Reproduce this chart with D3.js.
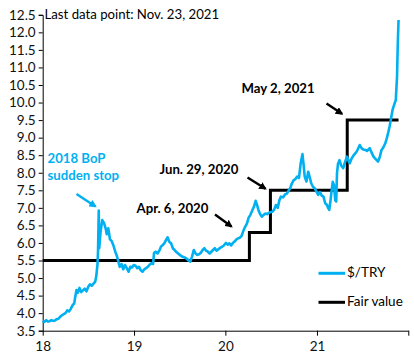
<!DOCTYPE html>
<html>
<head>
<meta charset="utf-8">
<script src="https://cdn.jsdelivr.net/npm/d3@7"></script>
<style>
  html, body { margin: 0; padding: 0; background: #fff; }
  svg { display: block; }
  text { font-family: Lato, "Open Sans", sans-serif; }
</style>
</head>
<body>
<svg id="chart" width="414" height="360"></svg>
<script>
// ---------- DATA ----------
const tryDates = [
  "2018-01-01","2018-01-08","2018-01-15","2018-01-22","2018-01-29","2018-02-05","2018-02-12","2018-02-19","2018-02-26",
  "2018-03-05","2018-03-12","2018-03-19","2018-03-26","2018-04-02","2018-04-09","2018-04-16","2018-04-23","2018-04-30",
  "2018-05-07","2018-05-10","2018-05-16","2018-05-21","2018-05-28","2018-06-04","2018-06-11","2018-06-18","2018-06-25",
  "2018-07-02","2018-07-09","2018-07-16","2018-07-23","2018-07-30","2018-08-03","2018-08-08","2018-08-10","2018-08-13",
  "2018-08-15","2018-08-20","2018-08-27","2018-09-03","2018-09-10","2018-09-14","2018-09-20","2018-09-27","2018-10-04",
  "2018-10-11","2018-10-18","2018-10-25","2018-11-01","2018-11-05","2018-11-12","2018-11-19","2018-11-26","2018-12-03",
  "2018-12-10","2018-12-17","2018-12-24","2018-12-31",
  "2019-01-07","2019-01-14","2019-01-21","2019-01-28","2019-02-04","2019-02-11","2019-02-18","2019-02-25","2019-03-04",
  "2019-03-11","2019-03-18","2019-03-22","2019-03-29","2019-04-05","2019-04-12","2019-04-19","2019-04-26","2019-05-03",
  "2019-05-10","2019-05-15","2019-05-22","2019-05-29","2019-06-05","2019-06-12","2019-06-19","2019-06-26","2019-07-03",
  "2019-07-10","2019-07-17","2019-07-24","2019-07-31","2019-08-07","2019-08-14","2019-08-21","2019-08-28","2019-09-04",
  "2019-09-11","2019-09-18","2019-09-25","2019-10-02","2019-10-09","2019-10-16","2019-10-23","2019-10-30","2019-11-06",
  "2019-11-13","2019-11-20","2019-11-27","2019-12-04","2019-12-11","2019-12-18","2019-12-25",
  "2020-01-03","2020-01-10","2020-01-17","2020-01-24","2020-01-31","2020-02-07","2020-02-14","2020-02-21","2020-02-28",
  "2020-03-06","2020-03-13","2020-03-20","2020-03-27","2020-04-03","2020-04-10","2020-04-17","2020-04-24","2020-05-01",
  "2020-05-06","2020-05-12","2020-05-19","2020-05-26","2020-06-02","2020-06-09","2020-06-16","2020-06-23","2020-06-30",
  "2020-07-07","2020-07-14","2020-07-21","2020-07-28","2020-08-04","2020-08-10","2020-08-19","2020-08-26","2020-09-02",
  "2020-09-09","2020-09-16","2020-09-23","2020-09-30","2020-10-07","2020-10-14","2020-10-21","2020-10-28","2020-11-04",
  "2020-11-09","2020-11-13","2020-11-20","2020-11-27","2020-12-04","2020-12-09","2020-12-16","2020-12-23","2020-12-30",
  "2021-01-06","2021-01-13","2021-01-20","2021-01-27","2021-02-03","2021-02-10","2021-02-15","2021-02-19","2021-02-24",
  "2021-03-01","2021-03-05","2021-03-10","2021-03-15","2021-03-19","2021-03-22","2021-03-26","2021-04-01","2021-04-08",
  "2021-04-16","2021-04-23","2021-05-01","2021-05-07","2021-05-12","2021-05-19","2021-05-26","2021-06-03","2021-06-10",
  "2021-06-21","2021-06-28","2021-07-05","2021-07-13","2021-07-20","2021-07-31","2021-08-07","2021-08-15","2021-08-22",
  "2021-09-02","2021-09-09","2021-09-16","2021-09-23","2021-10-01","2021-10-07","2021-10-12","2021-10-18","2021-10-23",
  "2021-10-30","2021-11-06","2021-11-12","2021-11-17","2021-11-20","2021-11-23"
];
const tryValues = [
  3.78,3.75,3.80,3.76,3.77,3.80,3.78,3.79,3.83,
  3.84,3.90,3.94,3.97,4.00,4.08,4.05,4.12,4.22,
  4.28,4.42,4.66,4.58,4.72,4.60,4.65,4.70,4.62,
  4.75,4.82,4.78,4.84,4.90,5.05,5.40,5.75,6.92,
  5.85,6.30,6.65,6.57,6.40,6.25,6.42,6.10,6.05,
  5.92,5.75,5.62,5.42,5.32,5.40,5.25,5.37,5.28,
  5.18,5.32,5.30,5.37,
  5.35,5.28,5.32,5.22,5.18,5.25,5.28,5.32,5.38,
  5.42,5.40,5.72,5.75,5.70,5.78,5.90,5.94,6.00,
  6.10,6.16,6.03,5.99,5.85,5.80,5.74,5.70,5.66,
  5.62,5.60,5.58,5.55,5.50,5.47,5.62,5.80,5.70,
  5.66,5.68,5.72,5.80,5.85,5.78,5.75,5.70,5.75,
  5.80,5.85,5.78,5.82,5.86,5.89,5.92,
  6.00,5.95,5.99,5.93,6.00,6.04,6.10,6.13,6.15,
  6.20,6.35,6.46,6.55,6.72,6.80,6.92,7.03,7.20,
  7.10,6.94,6.82,6.75,6.80,6.84,6.82,6.86,6.88,
  6.89,6.95,7.08,7.00,7.22,7.32,7.30,7.38,7.40,
  7.48,7.56,7.70,7.79,7.82,7.89,7.85,8.27,8.53,
  8.20,7.89,7.75,8.03,7.85,7.70,7.60,7.56,7.46,
  7.37,7.45,7.35,7.32,7.13,7.08,6.99,6.94,7.20,
  7.51,7.74,7.65,7.22,7.18,7.98,8.25,8.36,8.20,
  8.13,8.30,8.46,8.35,8.27,8.40,8.48,8.55,8.62,
  8.79,8.70,8.66,8.65,8.62,8.70,8.58,8.46,8.40,
  8.32,8.45,8.65,8.72,8.84,8.98,9.12,9.31,9.50,
  9.79,9.95,10.07,10.74,11.69,12.35
];
// Fair value step series (level holds from each date until the next)
const fairDates  = ["2018-01-01","2020-04-06","2020-06-29","2021-05-02","2021-11-23"];
const fairValues = [5.5, 6.3, 7.5, 9.5, 9.5];

const yTicks = [3.5,4.0,4.5,5.0,5.5,6.0,6.5,7.0,7.5,8.0,8.5,9.0,9.5,10.0,10.5,11.0,11.5,12.0,12.5];
const xTickDates = ["2018-01-01","2019-01-01","2020-01-01","2021-01-01","2022-01-01"];
const xTickLabels = ["18","19","20","21",""];

const seriesNames = ["$/TRY","Fair value"];
const annotations = [
  {text:"Last data point: Nov. 23, 2021"},
  {text:"May 2, 2021"},
  {text:"Jun. 29, 2020"},
  {text:"Apr. 6, 2020"},
  {text:"2018 BoP"},
  {text:"sudden stop"}
];

// ---------- CHART ----------
const parse = d3.timeParse("%Y-%m-%d");
const BLUE = "#00B0F0";
const svg = d3.select("#chart");

const x = d3.scaleTime()
  .domain([parse("2018-01-01"), parse("2022-01-01")])
  .range([42.7, 408.3]);
const y = d3.scaleLinear().domain([3.5, 12.5]).range([330.7, 14.8]);

// axes
const yAxis = d3.axisLeft(y).tickValues(yTicks).tickFormat(d3.format(".1f")).tickSize(4).tickPadding(3);
const gy = svg.append("g").attr("transform", "translate(42.7,0)").call(yAxis);
gy.select(".domain").attr("stroke", "#000");
gy.selectAll(".tick line").attr("stroke", "#000");
gy.selectAll(".tick text").style("font-size", "13.5px").style("font-family", "Lato, sans-serif").style("fill", "#111");

const xAxis = d3.axisBottom(x).tickValues(xTickDates.map(parse))
  .tickFormat((d, i) => xTickLabels[i]).tickSize(5).tickSizeOuter(0).tickPadding(6);
const gx = svg.append("g").attr("transform", "translate(0,330.7)").call(xAxis);
gx.select(".domain").attr("stroke", "#000");
gx.selectAll(".tick line").attr("stroke", "#000");
gx.selectAll(".tick text").style("font-size", "13.5px").style("font-family", "Lato, sans-serif").style("fill", "#111");

// fair value step line
const fairData = fairDates.map((d, i) => ({date: parse(d), v: fairValues[i]}));
svg.append("path")
  .datum(fairData)
  .attr("fill", "none")
  .attr("stroke", "#000")
  .attr("stroke-width", 3)
  .attr("d", d3.line().x(d => x(d.date)).y(d => y(d.v)).curve(d3.curveStepAfter));

// $/TRY line
const tryData = tryDates.map((d, i) => ({date: parse(d), v: tryValues[i]}));
svg.append("path")
  .datum(tryData)
  .attr("fill", "none")
  .attr("stroke", BLUE)
  .attr("stroke-width", 2.6)
  .attr("stroke-linejoin", "round")
  .attr("d", d3.line().x(d => x(d.date)).y(d => y(d.v)));

// arrow markers
const defs = svg.append("defs");
function marker(id, color) {
  defs.append("marker").attr("id", id).attr("viewBox", "0 0 10 10")
    .attr("refX", 8).attr("refY", 5).attr("markerWidth", 3.2).attr("markerHeight", 3.2)
    .attr("orient", "auto").attr("markerUnits", "strokeWidth")
    .append("path").attr("d", "M0,0 L10,5 L0,10 z").attr("fill", color);
}
marker("arrBlack", "#000");
marker("arrBlue", BLUE);

function arrow(x1, y1, x2, y2, color, id) {
  svg.append("line").attr("x1", x1).attr("y1", y1).attr("x2", x2).attr("y2", y2)
    .attr("stroke", color).attr("stroke-width", 2.4).attr("marker-end", `url(#${id})`);
}
arrow(326.5, 103.5, 342, 113.8, "#000", "arrBlack");
arrow(247.5, 177.5, 265.5, 188.8, "#000", "arrBlack");
arrow(215, 214.5, 231.5, 226.5, "#000", "arrBlack");
arrow(76.5, 194, 95.5, 206.5, BLUE, "arrBlue");

// annotation texts
function label(t, xx, yy, opts) {
  svg.append("text").attr("x", xx).attr("y", yy).text(t)
    .style("font-size", (opts.size || 13) + "px")
    .style("font-weight", opts.bold ? "bold" : "normal")
    .style("fill", opts.color || "#000")
    .attr("dominant-baseline", "middle");
}
label(annotations[0].text, 44.5, 15.5, {size: 13.2});
label(annotations[1].text, 241.5, 90, {size: 13.2, bold: true});
label(annotations[2].text, 159.5, 171, {size: 13.2, bold: true});
label(annotations[3].text, 136.5, 209.5, {size: 13.2, bold: true});
label(annotations[4].text, 47.5, 159.5, {size: 13.2, bold: true, color: BLUE});
label(annotations[5].text, 47.5, 177, {size: 13.2, bold: true, color: BLUE});

// legend
const legendY = [273.3, 302.3];
const legendColors = [BLUE, "#000"];
seriesNames.forEach((n, i) => {
  svg.append("line").attr("x1", 318.5).attr("x2", 345).attr("y1", legendY[i]).attr("y2", legendY[i])
    .attr("stroke", legendColors[i]).attr("stroke-width", 3);
  svg.append("text").attr("x", 347).attr("y", legendY[i]).text(n)
    .style("font-size", "13.5px").attr("dominant-baseline", "middle").style("fill", "#000");
});
</script>
</body>
</html>
